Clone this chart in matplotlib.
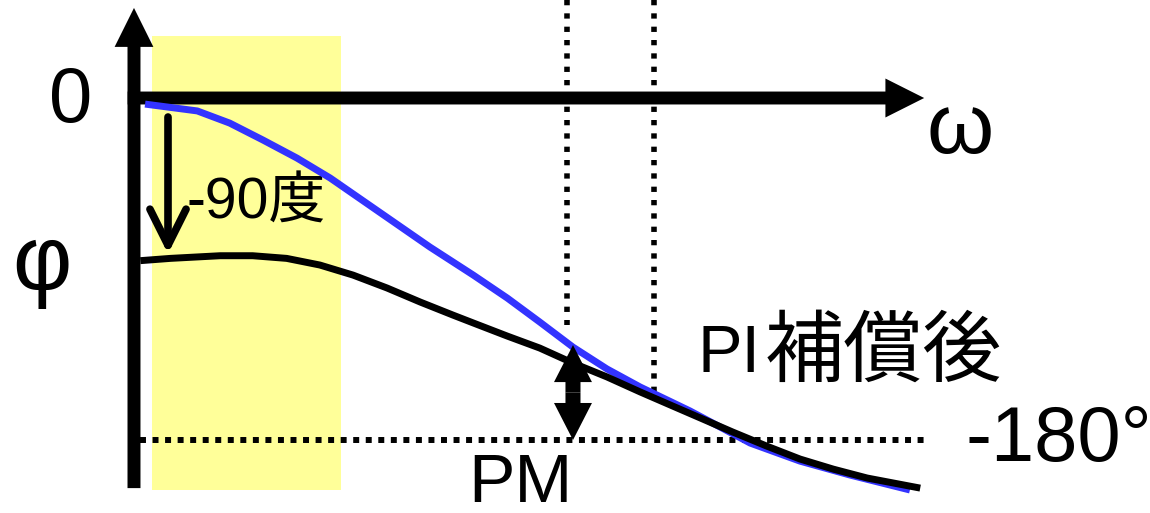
import matplotlib
matplotlib.use('Agg')
import matplotlib.pyplot as plt
from matplotlib.patches import FancyArrow, Rectangle

# phase curves (omega in arbitrary units, phase in degrees)
w_before = [0.08, 0.46, 1.09, 1.50, 1.93, 2.35, 2.77, 3.20, 3.62, 4.03, 4.29, 4.72, 5.13,
            5.55, 5.98, 6.40, 6.81, 7.16, 7.57, 8.00, 8.42, 8.84, 9.27, 9.94]
phase_pi = [-85.6, -84.4, -83.0, -83.0, -84.4, -87.9, -93.2, -100.0, -107.4, -114.2, -118.4, -125.3, -131.6,
            -139.5, -146.8, -154.7, -162.1, -168.4, -175.8, -183.2, -190.0, -195.3, -200.0, -205.3]

w_orig = [0.14, 0.80, 1.21, 1.63, 2.06, 2.48, 2.90, 3.32, 3.74, 4.29, 4.72, 5.13,
          5.55, 5.98, 6.40, 7.03, 7.79, 8.42, 9.05, 9.81]
phase_orig = [-3.2, -6.8, -13.2, -22.1, -31.6, -42.1, -54.2, -66.3, -78.4, -93.2, -105.3, -117.9,
              -131.1, -142.6, -152.1, -164.7, -181.6, -191.1, -198.4, -206.3]

w_low_band = [0.23, 2.62]
w_gc = [5.47, 6.57]          # gain crossover before/after
phase_gc = [-119.5, -155.0]
w_pm = 5.55
pm_range = [-130.0, -180.0]
phase_ref = -180.0

fig = plt.figure(figsize=(11.5, 5.13), dpi=100)
ax = fig.add_axes([0, 0, 1, 1])
ax.set_xlim(-1.694, 12.845)
ax.set_ylim(-218.4, 51.58)
ax.axis('off')

latin = ['Liberation Sans', 'Noto Sans CJK JP', 'DejaVu Sans']
cjk = ['Noto Sans CJK JP', 'Liberation Sans']

# low frequency band
ax.add_patch(Rectangle((w_low_band[0], -206.3), w_low_band[1] - w_low_band[0], 238.9,
                       facecolor='#FFFF99', edgecolor='none', zorder=0))

# dotted guides
ax.plot([0.08, 10.04], [phase_ref, phase_ref], color='k', lw=4.3, ls=(0, (1.0, 1.1)),
        dash_capstyle='butt', zorder=1)
for w, p in zip(w_gc, phase_gc):
    ax.plot([w, w], [51.6, p], color='k', lw=4.0, ls=(0, (0.95, 1.45)), dash_capstyle='butt', zorder=1)

# axes with arrows
ax.add_patch(FancyArrow(0, -205.3, 0, 252.7, width=0.164, head_width=0.49, head_length=20.5,
                        length_includes_head=True, color='k', lw=0, zorder=3))
ax.add_patch(FancyArrow(-0.08, 0, 10.07, 0, width=6.8, head_width=20.5, head_length=0.49,
                        length_includes_head=True, color='k', lw=0, zorder=3))

# curves
ax.plot(w_orig, phase_orig, color='#3333FF', lw=5.0, solid_capstyle='butt',
        solid_joinstyle='round', zorder=4)
ax.plot(w_before, phase_pi, color='k', lw=5.0, solid_capstyle='butt',
        solid_joinstyle='round', zorder=5)

# -90 deg arrow
ax.annotate('', xy=(0.43, -82.0), xytext=(0.43, -10.0),
            arrowprops=dict(arrowstyle='->,head_length=2.6,head_width=1.3', mutation_scale=10,
                            lw=5.5, color='k', shrinkA=0, shrinkB=0, capstyle='round', joinstyle='round'),
            zorder=6)

# phase margin double arrow
mid = (pm_range[0] + pm_range[1]) / 2
for end in pm_range:
    ax.add_patch(FancyArrow(w_pm, mid, 0, end - mid, width=0.19, head_width=0.48, head_length=19.5,
                            length_includes_head=True, color='k', lw=0, zorder=6))

# labels
ax.text(-0.80, -12.6, '0', fontsize=56, family=latin, ha='center', va='baseline')
ax.text(-1.16, -101.0, 'φ', fontsize=66, family=latin, ha='center', va='baseline')
ax.text(10.44, -28.9, 'ω', fontsize=62, family=latin, ha='center', va='baseline')
ax.text(0.67, -63.2, '-90度', fontsize=41, family=latin, ha='left', va='baseline')
ax.text(7.12, -144.2, 'PI', fontsize=48, family=latin, ha='left', va='baseline')
ax.text(7.97, -146.0, '補償後', fontsize=57, family=cjk, ha='left', va='baseline')
ax.text(10.51, -191.0, '-180°', fontsize=56, family=latin, ha='left', va='baseline')
ax.text(4.88, -212.5, 'PM', fontsize=50, family=latin, ha='center', va='baseline')

fig.savefig('out.png', dpi=100)
